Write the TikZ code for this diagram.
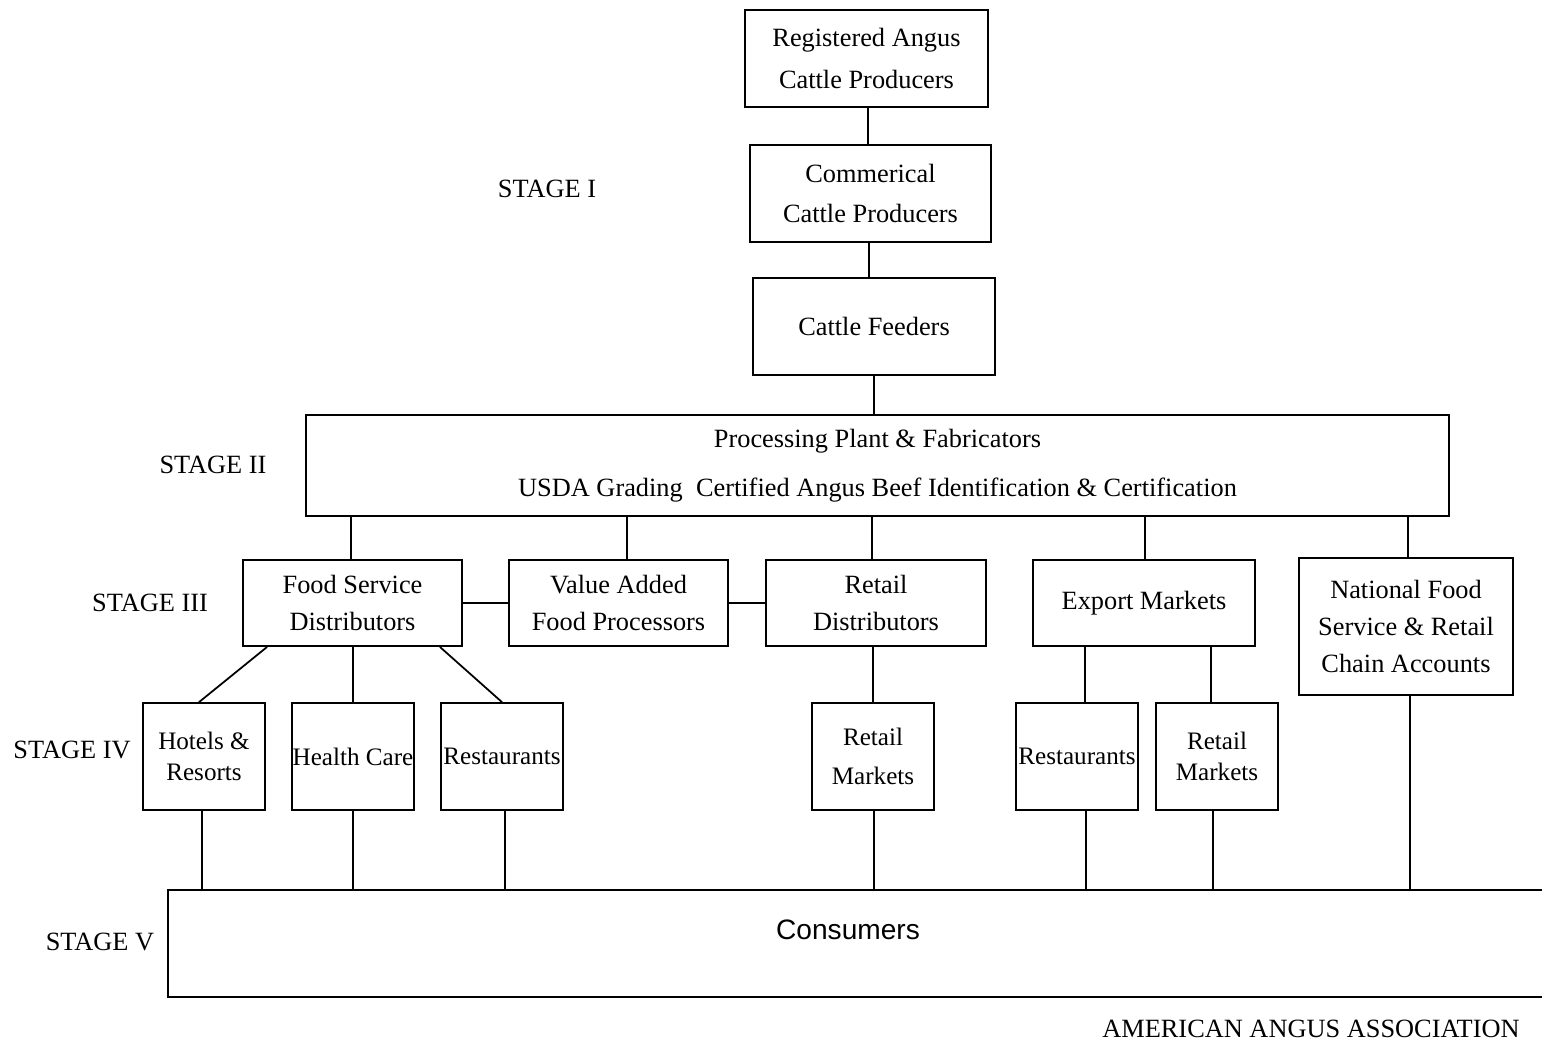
\documentclass[tikz,border=0pt]{standalone}
\usepackage{fontspec}
\setmainfont{Liberation Serif}
\newfontfamily\consfont{Liberation Sans}
\usepackage{tikz}
\usetikzlibrary{calc}

\tikzset{
  box/.style={draw, line width=1pt, align=center, inner sep=0pt,
    font=\fontsize{15}{21}\selectfont},
  narrow/.style={font=\fontsize{14.3}{18}\selectfont},
  stagelbl/.style={font=\fontsize{15}{18}\selectfont},
  link/.style={line width=1pt}
}

\begin{document}
\begin{tikzpicture}[x=0.02cm, y=-0.02cm]
\useasboundingbox (0,0) rectangle (1542,1042);
% Etapa I
\node[box, minimum width=4.86cm, minimum height=1.94cm] (reg) at (866.5,58.5)
  {Registered Angus\\[3pt]Cattle Producers};
\node[box, minimum width=4.82cm, minimum height=1.94cm] (comm) at (870.5,193.5)
  {Commerical\\[2pt]Cattle Producers};
\node[box, minimum width=4.84cm, minimum height=1.94cm] (feed) at (874,326.5)
  {Cattle Feeders};
% Etapa II
\node[box, minimum width=22.86cm, minimum height=2.02cm] (proc) at (877.5,465.5)
  {Processing Plant \& Fabricators\\[7pt]USDA Grading\ \ Certified Angus Beef Identification \& Certification};
% Etapa III
\node[box, minimum width=4.38cm, minimum height=1.72cm] (fsd) at (352.5,603)
  {Food Service\\Distributors};
\node[box, minimum width=4.38cm, minimum height=1.72cm] (vafp) at (618.5,603)
  {Value Added\\Food Processors};
\node[box, minimum width=4.40cm, minimum height=1.72cm] (retd) at (876,603)
  {Retail\\Distributors};
\node[box, minimum width=4.44cm, minimum height=1.72cm] (exp) at (1144,603)
  {Export Markets};
\node[box, minimum width=4.28cm, minimum height=2.74cm] (nat) at (1406,626.5)
  {National Food\\Service \& Retail\\Chain Accounts};
% Etapa IV
\node[box, narrow, minimum width=2.44cm, minimum height=2.14cm] (hotels) at (204,756.5)
  {Hotels \&\\Resorts};
\node[box, narrow, minimum width=2.44cm, minimum height=2.14cm] (health) at (353,756.5)
  {Health Care};
\node[box, narrow, minimum width=2.44cm, minimum height=2.14cm] (rest1) at (502,756.5)
  {Restaurants};
\node[box, narrow, minimum width=2.44cm, minimum height=2.14cm] (retm1) at (873,756.5)
  {Retail\\[4pt]Markets};
\node[box, narrow, minimum width=2.44cm, minimum height=2.14cm] (rest2) at (1077,756.5)
  {Restaurants};
\node[box, narrow, minimum width=2.44cm, minimum height=2.14cm] (retm2) at (1217,756.5)
  {Retail\\Markets};
% Etapa V
\coordinate (ctop) at (168,890);
\coordinate (cbot) at (168,997);
\draw[link] (1542,890) -- (ctop) -- (cbot) -- (1542,997);
\node[font=\consfont\fontsize{16}{18}\selectfont] (cons) at (848,930) {Consumers};
% Rotulos
\node[stagelbl] (s1) at (547,189) {STAGE I};
\node[stagelbl] (s2) at (213,465) {STAGE II};
\node[stagelbl] (s3) at (150,603) {STAGE III};
\node[stagelbl] (s4) at (72,750) {STAGE IV};
\node[stagelbl] (s5) at (100,942) {STAGE V};
\node[stagelbl] (aaa) at (1311,1029) {AMERICAN ANGUS ASSOCIATION};
% Ligacoes
\draw[link] ($(reg.south)+(1.5,0)$) -- ($(reg.south |- comm.north)+(1.5,0)$);
\draw[link] ($(comm.south)+(-1.5,0)$) -- ($(comm.south |- feed.north)+(-1.5,0)$);
\draw[link] (feed.south) -- (feed.south |- proc.north);
\foreach \b/\dx in {fsd/-1.5,vafp/8.5,retd/-4,exp/1,nat/2}
  \draw[link] ($(\b.north |- proc.south)+(\dx,0)$) -- ($(\b.north)+(\dx,0)$);
\draw[link] (fsd.east) -- (vafp.west);
\draw[link] (vafp.east) -- (retd.west);
\draw[link] ($(fsd.south west)+(25,0)$) -- ($(hotels.north)+(-5,0)$);
\draw[link] (health.north |- fsd.south) -- (health.north);
\draw[link] ($(fsd.south east)+(-23,0)$) -- (rest1.north);
\draw[link] (retm1.north |- retd.south) -- (retm1.north);
\draw[link] ($(rest2.north |- exp.south)+(8,0)$) -- ($(rest2.north)+(8,0)$);
\draw[link] ($(retm2.north |- exp.south)+(-6,0)$) -- ($(retm2.north)+(-6,0)$);
\foreach \b/\dx in {hotels/-2,health/0,rest1/3,retm1/1,rest2/9,retm2/-4,nat/4}
  \draw[link] ($(\b.south)+(\dx,0)$) -- ($(\b.south |- ctop)+(\dx,0)$);
\end{tikzpicture}
\end{document}
